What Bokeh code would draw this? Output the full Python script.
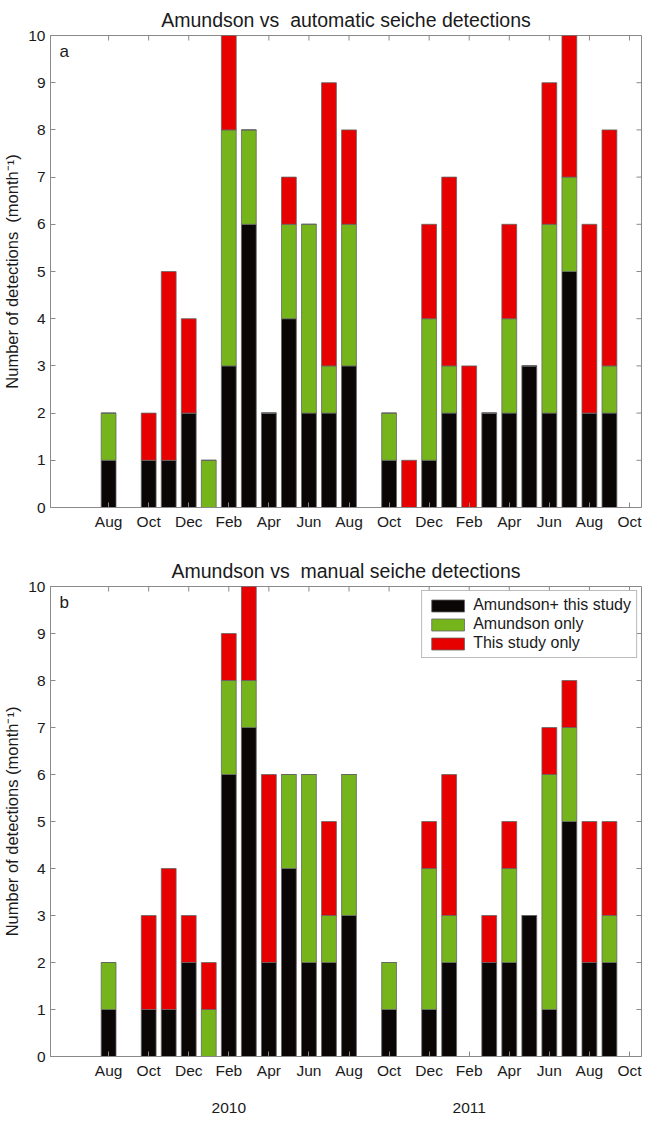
import math
from bokeh.plotting import figure
from bokeh.layouts import column
from bokeh.models import ColumnDataSource, FixedTicker, LinearAxis, Range1d, Label
from bokeh.embed import file_html
from bokeh.resources import INLINE

# month index 0 = Aug 2009 ... 26 = Oct 2011
month_index = list(range(27))
tick_months = list(range(0, 27, 2))
tick_labels = ["Aug", "Oct", "Dec", "Feb", "Apr", "Jun", "Aug",
               "Oct", "Dec", "Feb", "Apr", "Jun", "Aug", "Oct"]
y_ticks = list(range(11))
year_months = [6, 18]
year_labels = ["2010", "2011"]
series_names = ["Amundson+ this study", "Amundson only", "This study only"]

# Panel a: Amundson vs automatic detections
a_both  = [1, 0, 1, 1, 2, 0, 3, 6, 2, 4, 2, 2, 3, 0, 1, 0, 1, 2, 0, 2, 2, 3, 2, 5, 2, 2, 0]
a_amund = [1, 0, 0, 0, 0, 1, 5, 2, 0, 2, 4, 1, 3, 0, 1, 0, 3, 1, 0, 0, 2, 0, 4, 2, 0, 1, 0]
a_study = [0, 0, 1, 4, 2, 0, 2, 0, 0, 1, 0, 6, 2, 0, 0, 1, 2, 4, 3, 0, 2, 0, 3, 3, 4, 5, 0]

# Panel b: Amundson vs manual detections
b_both  = [1, 0, 1, 1, 2, 0, 6, 7, 2, 4, 2, 2, 3, 0, 1, 0, 1, 2, 0, 2, 2, 3, 1, 5, 2, 2, 0]
b_amund = [1, 0, 0, 0, 0, 1, 2, 1, 0, 2, 4, 1, 3, 0, 1, 0, 3, 1, 0, 0, 2, 0, 5, 2, 0, 1, 0]
b_study = [0, 0, 2, 3, 1, 1, 1, 2, 4, 0, 0, 2, 0, 0, 0, 0, 1, 3, 0, 1, 1, 0, 1, 1, 3, 2, 0]

FONT = "Liberation Sans"
COLORS = ["#0b0606", "#76b41c", "#e60000"]
GRAY = "#8a8a8a"
TXT = "#1a1a1a"
X0, X1 = -2.9, 26.6
Y0, Y1 = 0, 10


def style_axis(ax, ticks, labels=None):
    ax.ticker = FixedTicker(ticks=ticks)
    ax.major_tick_in = 5
    ax.major_tick_out = 0
    ax.minor_tick_line_color = None
    ax.axis_line_color = GRAY
    ax.major_tick_line_color = GRAY
    ax.major_label_text_font = FONT
    ax.major_label_text_font_size = "15.5px"
    ax.major_label_text_color = TXT
    ax.major_label_standoff = 5
    if labels is not None:
        ax.major_label_overrides = {t: l for t, l in zip(ticks, labels)}


def make_panel(title, letter, both, amund, study, ylabel, height, top, bottom,
               legend=False, years=False):
    src = ColumnDataSource(dict(m=month_index, both=both, amund=amund, study=study))
    p = figure(width=643, height=height, x_range=Range1d(X0, X1),
               y_range=Range1d(Y0, Y1), output_backend="svg", toolbar_location=None,
               min_border_left=45, min_border_right=2, min_border_top=top,
               min_border_bottom=bottom)
    p.grid.visible = False
    p.outline_line_color = GRAY
    p.background_fill_color = "white"
    p.border_fill_color = "white"

    # inward tick marks on the top and right frame edges (mirroring the axes)
    p.ray(x=tick_months, y=[Y1] * len(tick_months), length=5, length_units="screen",
          angle=-math.pi / 2, line_color=GRAY, line_width=1)
    p.ray(x=[X1] * len(y_ticks), y=y_ticks, length=5, length_units="screen",
          angle=math.pi, line_color=GRAY, line_width=1)

    kw = dict(x="m", width=0.74, fill_color=COLORS, line_color="#666666",
              line_width=0.8, source=src)
    if legend:
        kw["legend_label"] = series_names
    p.vbar_stack(["both", "amund", "study"], **kw)

    style_axis(p.xaxis[0], tick_months, tick_labels)
    style_axis(p.yaxis[0], y_ticks)
    p.yaxis[0].axis_label = ylabel
    p.yaxis[0].axis_label_text_font = FONT
    p.yaxis[0].axis_label_text_font_size = "16.5px"
    p.yaxis[0].axis_label_text_font_style = "normal"
    p.yaxis[0].axis_label_text_color = TXT
    p.yaxis[0].axis_label_standoff = 4

    if years:
        yr = LinearAxis(ticker=FixedTicker(ticks=year_months),
                        major_label_overrides={m: y for m, y in zip(year_months, year_labels)})
        yr.axis_line_color = None
        yr.major_tick_line_color = None
        yr.minor_tick_line_color = None
        yr.major_label_text_font = FONT
        yr.major_label_text_font_size = "15.5px"
        yr.major_label_text_color = TXT
        yr.major_label_standoff = 15
        p.add_layout(yr, "below")

    p.title.text = title
    p.title.align = "center"
    p.title.text_font = FONT
    p.title.text_font_size = "19.5px"
    p.title.text_font_style = "normal"
    p.title.text_color = TXT

    p.add_layout(Label(x=-2.45, y=9.66, text=letter, text_font=FONT,
                       text_font_size="17px", text_color=TXT,
                       text_baseline="middle", text_align="left"))

    if legend:
        lg = p.legend[0]
        lg.location = "top_right"
        lg.margin = 4
        lg.padding = 5
        lg.spacing = 1
        lg.glyph_width = 41
        lg.glyph_height = 15
        lg.label_height = 15
        lg.label_standoff = 5
        lg.label_text_font = FONT
        lg.label_text_font_size = "16px"
        lg.label_text_color = TXT
        lg.label_text_line_height = 1.1
        lg.border_line_color = "#777777"
        lg.border_line_width = 1
        lg.background_fill_alpha = 1.0
    return p


pa = make_panel("Amundson vs\u00a0 automatic seiche detections", "a",
                a_both, a_amund, a_study, "Number of detections\u00a0 (month⁻¹)",
                height=536, top=35, bottom=29)
pb = make_panel("Amundson vs\u00a0 manual seiche detections", "b",
                b_both, b_amund, b_study, "Number of detections (month⁻¹)",
                height=579, top=50, bottom=57, legend=True, years=True)

layout = column(pa, pb, spacing=0)
open("out.html", "w").write(file_html(layout, INLINE))
